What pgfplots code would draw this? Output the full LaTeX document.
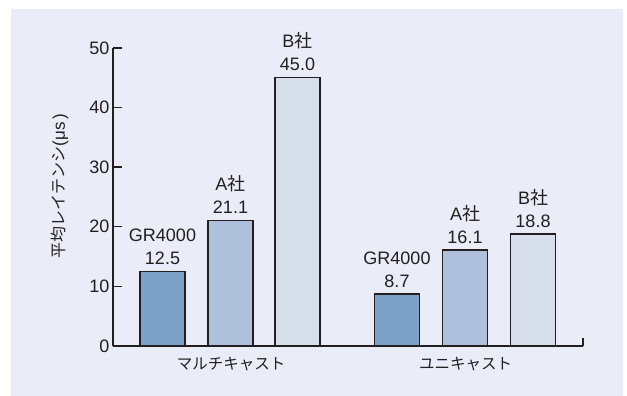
\documentclass[border=0pt]{standalone}
\usepackage{fontspec}
\setmainfont{Liberation Sans}
\newfontfamily\cjk{Noto Sans CJK JP}
\usepackage{pgfplots}
\pgfplotsset{compat=1.18}
\definecolor{bg}{HTML}{EAEDF7}
\definecolor{ink}{HTML}{231F20}
\definecolor{cgr}{HTML}{7EA1C7}
\definecolor{ca}{HTML}{AEC0DC}
\definecolor{cb}{HTML}{D8DFEC}
\begin{document}
\begin{tikzpicture}[x=1pt,y=1pt]
\fill[white] (0,0) rectangle (627,396);
\fill[bg] (11,0) rectangle (623,387);
\useasboundingbox (0,0) rectangle (627,396);
\begin{axis}[
  at={(113pt,50pt)}, anchor=south west,
  scale only axis, width=470pt, height=298pt,
  xmin=113, xmax=583, ymin=0, ymax=50,
  axis x line=bottom, axis y line=left,
  axis line style={-},
  every outer y axis line/.append style={line width=2.4pt, draw=ink},
  every outer x axis line/.append style={line width=1.8pt, draw=ink},
  ytick={0,10,20,30,40,50},
  yticklabels={0,10,20,30,40,50},
  xtick=\empty,
  tick align=inside,
  major tick length=9pt,
  ytick style={line width=1.4pt, draw=ink},
  yticklabel style={font=\fontsize{18}{22}\selectfont, text=ink},
  clip=false,
  point meta=explicit symbolic,
  nodes near coords style={align=center, font=\fontsize{18}{23}\selectfont, text=ink, anchor=south, inner sep=0pt, yshift=6pt},
]
\addplot[ybar, bar width=45, fill=cgr, draw=ink, line width=1.3pt,
  nodes near coords={GR4000\\\pgfplotspointmeta}]
  coordinates {(162.5,12.5) [12.5] (397,8.7) [8.7]};
\addplot[ybar, bar width=45, fill=ca, draw=ink, line width=1.3pt,
  nodes near coords={A{\cjk 社}\\\pgfplotspointmeta}]
  coordinates {(230.5,21.1) [21.1] (465,16.1) [16.1]};
\addplot[ybar, bar width=45, fill=cb, draw=ink, line width=1.3pt,
  nodes near coords={B{\cjk 社}\\\pgfplotspointmeta}]
  coordinates {(297.5,45.0) [45.0] (533,18.8) [18.8]};
\draw[ink, line width=1.2pt] (axis cs:583,0) -- (axis cs:583,1.4);
\end{axis}
\node[rotate=90, text=ink] at (60,210) {{\cjk\fontsize{16}{18}\selectfont 平均レイテンシ}{\fontsize{17}{18}\selectfont(μs\,)}};
\node[font=\cjk\fontsize{15.5}{18}\selectfont, text=ink, anchor=base] at (231,26) {マルチキャスト};
\node[font=\cjk\fontsize{15.5}{18}\selectfont, text=ink, anchor=base] at (465.5,26) {ユニキャスト};
\end{tikzpicture}
\end{document}
